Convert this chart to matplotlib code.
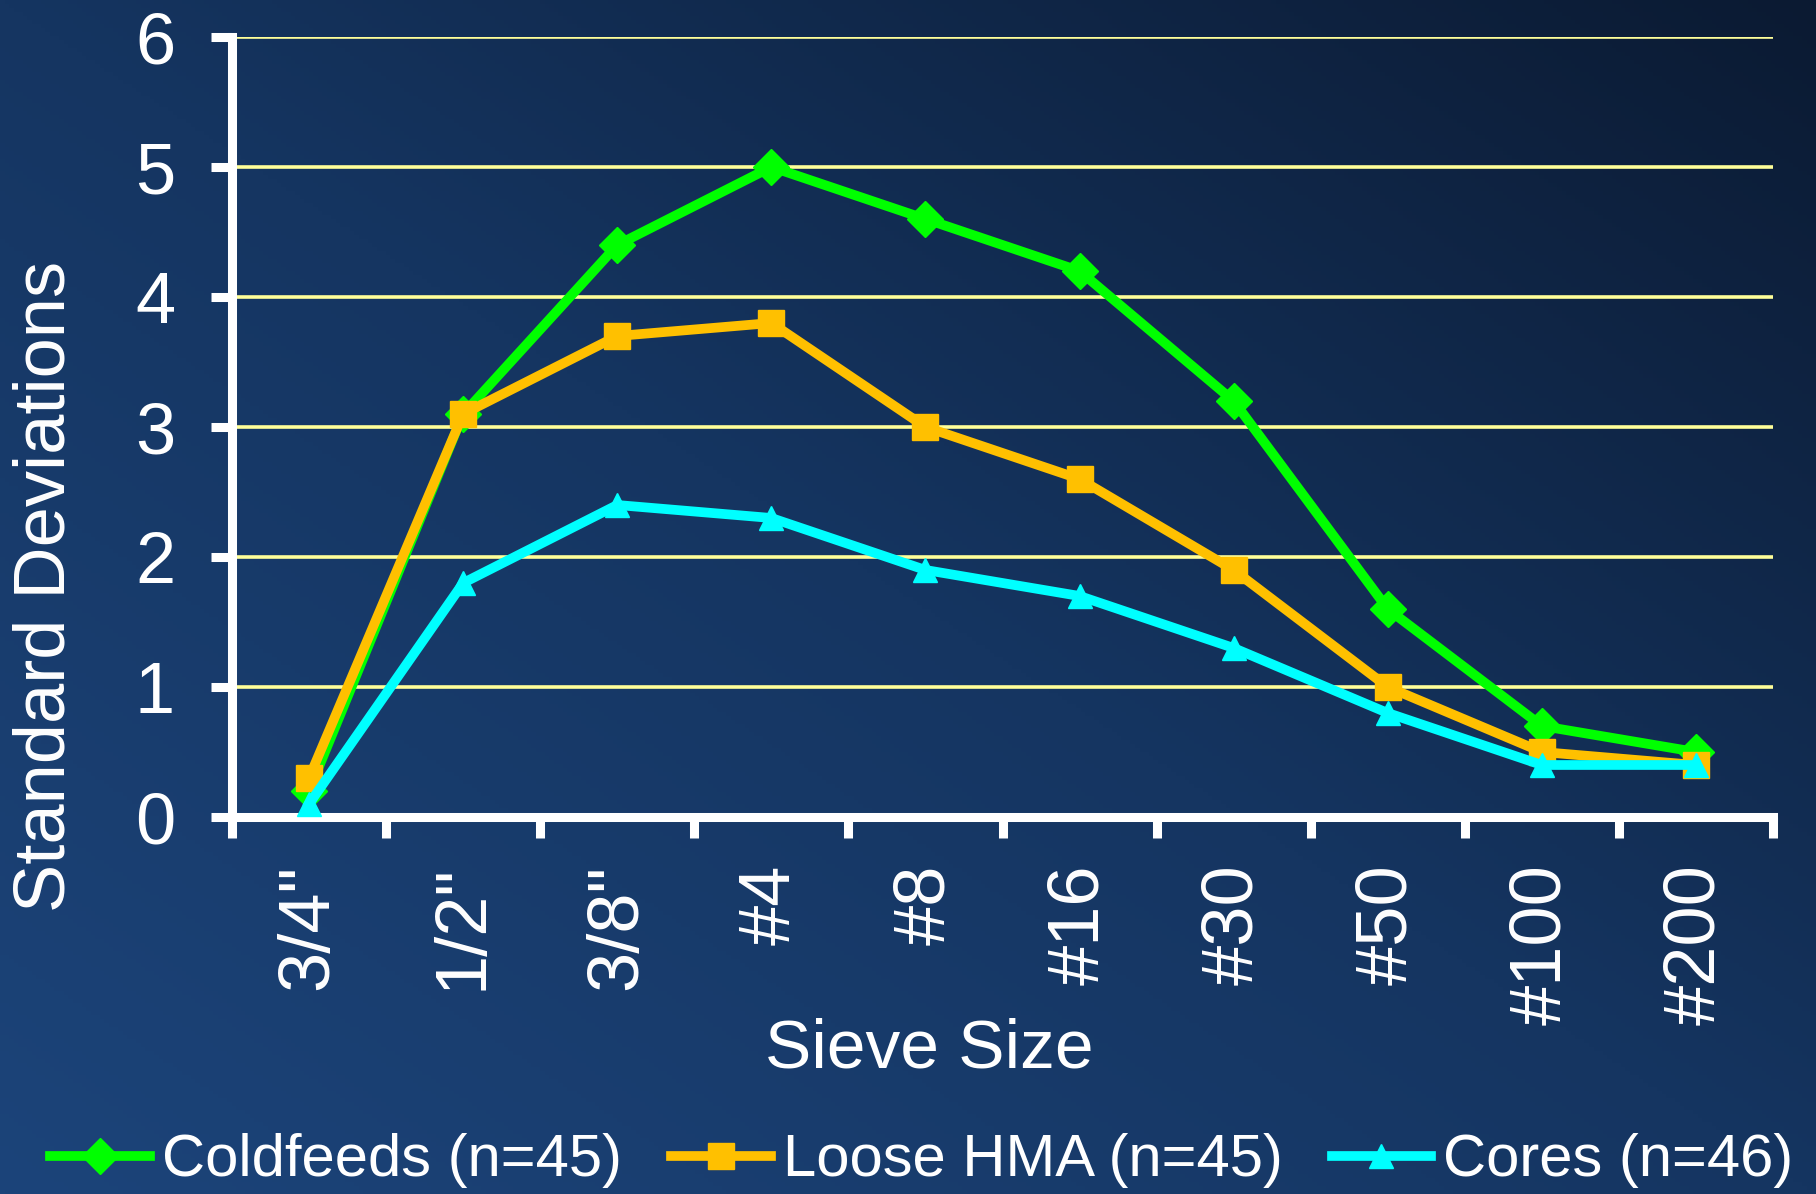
import numpy as np
import matplotlib
matplotlib.use("Agg")
import matplotlib.pyplot as plt

plt.rcParams["font.family"] = ["Liberation Sans", "DejaVu Sans"]

# Sieve sizes and standard deviations per sample type
sieves = ['3/4"', '1/2"', '3/8"', '#4', '#8', '#16', '#30', '#50', '#100', '#200']
coldfeeds = [0.2, 3.1, 4.4, 5.0, 4.6, 4.2, 3.2, 1.6, 0.7, 0.5]
loose_hma = [0.3, 3.1, 3.7, 3.8, 3.0, 2.6, 1.9, 1.0, 0.5, 0.4]
cores = [0.1, 1.8, 2.4, 2.3, 1.9, 1.7, 1.3, 0.8, 0.4, 0.4]

series_labels = ["Coldfeeds (n=45)", "Loose HMA (n=45)", "Cores (n=46)"]
y_ticks = [0, 1, 2, 3, 4, 5, 6]

W, H = 1816, 1194
fig = plt.figure(figsize=(W / 100, H / 100), dpi=100)

# Diagonal blue background: lighter bottom-left, darker top-right
bg = fig.add_axes([0, 0, 1, 1], zorder=-10)
xs = np.linspace(0, 1, 400)
ys = np.linspace(0, 1, 300)        # 0 at the top row
X, Yt = np.meshgrid(xs, ys)
s = X - Yt                          # -1 bottom-left ... +1 top-right
c_bl = np.array([28, 68, 122]) / 255
c_mid = np.array([21, 53, 97]) / 255
c_tr = np.array([11, 26, 50]) / 255
img = np.empty(X.shape + (3,))
for k in range(3):
    img[..., k] = np.where(
        s < 0,
        c_mid[k] + (c_bl[k] - c_mid[k]) * (-s),
        c_mid[k] + (c_tr[k] - c_mid[k]) * s,
    )
bg.imshow(img, extent=[0, 1, 0, 1], aspect="auto", origin="upper")
bg.axis("off")

left, right, top, bottom = 232, 1773, 37, 817
ax = fig.add_axes([left / W, 1 - bottom / H, (right - left) / W, (bottom - top) / H])
ax.set_facecolor("none")

x = np.arange(len(sieves)) + 0.5
ax.plot(x, coldfeeds, color="#00FF00", lw=7, marker="D", ms=18,
        mec="#00FF00", label=series_labels[0], clip_on=False, zorder=3)
ax.plot(x, loose_hma, color="#FFC000", lw=7, marker="s", ms=18.5,
        mec="#FFC000", label=series_labels[1], clip_on=False, zorder=4)
ax.plot(x, cores, color="#00FFFF", lw=7, marker="^", ms=17,
        mec="#00FFFF", label=series_labels[2], clip_on=False, zorder=5)

ax.set_xlim(0, len(sieves))
ax.set_ylim(0, 6)

# Horizontal gridlines
ax.set_yticks(y_ticks)
ax.yaxis.grid(True, color="#FFFF99", lw=2.6)
ax.set_axisbelow(True)

# Category boundaries carry the tick marks, centers carry the labels
ax.set_xticks(np.arange(len(sieves) + 1))
ax.set_xticklabels([])
ax.set_xticks(x, minor=True)
ax.set_xticklabels(sieves, minor=True, rotation=90, color="white", fontsize=52)
ax.tick_params(axis="x", which="major", length=15, width=6.5, color="white",
               direction="out")
ax.tick_params(axis="x", which="minor", length=0, pad=34)
ax.tick_params(axis="y", length=15, width=6.5, color="white", direction="out",
               labelcolor="white", labelsize=52, pad=26)

for side in ("top", "right"):
    ax.spines[side].set_visible(False)
for side in ("left", "bottom"):
    ax.spines[side].set_color("white")
    ax.spines[side].set_linewidth(6.5)
    ax.spines[side].set_capstyle("projecting")

ax.set_ylabel("Standard Deviations", color="white", fontsize=52, va="center")
ax.yaxis.set_label_coords((46 - left) / (right - left), (bottom - 586) / (bottom - top))
ax.set_xlabel("Sieve Size", color="white", fontsize=50, va="center")
ax.xaxis.set_label_coords((929 - left) / (right - left), (bottom - 1049) / (bottom - top))

leg = fig.legend(loc="center", bbox_to_anchor=(922 / W, 1 - 1161 / H), ncol=3,
                 frameon=False, fontsize=43, handlelength=1.67, handletextpad=0.2,
                 columnspacing=0.82, labelcolor="white", borderpad=0)

fig.savefig("out.png", dpi=100)
